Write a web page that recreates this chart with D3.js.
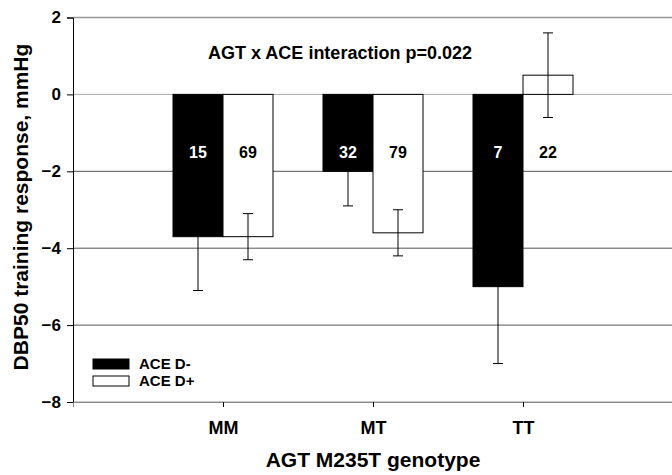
<!DOCTYPE html>
<html>
<head>
<meta charset="utf-8">
<script src="https://cdn.jsdelivr.net/npm/d3@7"></script>
<style>
  body { margin: 0; background: #fff; }
  text { font-family: "Liberation Sans", Arial, sans-serif; font-weight: bold; }
</style>
</head>
<body>
<svg></svg>
<script>
// data
var genotypes = ["MM", "MT", "TT"];
var groups = ["ACE D-", "ACE D+"];
var aceMinus = [-3.7, -2.0, -5.0];
var acePlus = [-3.7, -3.6, 0.5];
var seMinus = [1.4, 0.9, 2.0];
var sePlus = [0.6, 0.6, 1.1];
var nMinus = [15, 32, 7];
var nPlus = [69, 79, 22];
var yTicks = [2, 0, -2, -4, -6, -8];

var width = 672, height = 475;
var svg = d3.select("svg").attr("width", width).attr("height", height);

// scales
var x = d3.scaleLinear().domain([0, 4]).range([73, 673]);
var y = d3.scaleLinear().domain([-8, 2]).range([402, 17.5]);
var barW = 50;

// grid
svg.selectAll("line.grid")
   .data(yTicks)
   .enter()
   .append("line")
   .attr("class", "grid")
   .attr("x1", x(0)).attr("x2", width)
   .attr("y1", function(d){return y(d)})
   .attr("y2", function(d){return y(d)})
   .attr("stroke", function(d){return d == 2 || d == -8 ? "#999" : (d == 0 ? "#aaa" : "#555")})
   .attr("stroke-width", function(d){return d == 2 ? 1.5 : 1});

// bars
var rows = genotypes.map(function(g, i){
  return [
    {g: g, i: i, v: aceMinus[i], se: seMinus[i], n: nMinus[i], fill: "#000", txt: "#fff", off: -barW / 2},
    {g: g, i: i, v: acePlus[i], se: sePlus[i], n: nPlus[i], fill: "#fff", txt: "#000", off: barW / 2}
  ];
});
var bars = d3.merge(rows);

svg.selectAll("rect.bar")
   .data(bars)
   .enter()
   .append("rect")
   .attr("class", "bar")
   .attr("x", function(d){return x(d.i + 1) + d.off - barW / 2})
   .attr("y", function(d){return y(Math.max(0, d.v))})
   .attr("width", barW)
   .attr("height", function(d){return Math.abs(y(d.v) - y(0))})
   .attr("fill", function(d){return d.fill})
   .attr("stroke", "#000")
   .attr("stroke-width", 1);

// error bars
var eb = svg.selectAll("g.err")
   .data(bars)
   .enter()
   .append("g")
   .attr("class", "err")
   .attr("stroke", "#000")
   .attr("stroke-width", 1);
eb.append("line")
  .attr("x1", function(d){return x(d.i + 1) + d.off})
  .attr("x2", function(d){return x(d.i + 1) + d.off})
  .attr("y1", function(d){return y(d.v + d.se)})
  .attr("y2", function(d){return y(d.v - d.se)});
[1, -1].forEach(function(s){
  eb.append("line")
    .attr("x1", function(d){return x(d.i + 1) + d.off - 5})
    .attr("x2", function(d){return x(d.i + 1) + d.off + 5})
    .attr("y1", function(d){return y(d.v + s * d.se)})
    .attr("y2", function(d){return y(d.v + s * d.se)});
});

// counts
svg.selectAll("text.n")
   .data(bars)
   .enter()
   .append("text")
   .attr("class", "n")
   .attr("x", function(d){return x(d.i + 1) + d.off})
   .attr("y", y(-1.5) + 6)
   .attr("text-anchor", "middle")
   .attr("font-size", 16)
   .attr("fill", function(d){return d.txt})
   .text(function(d){return d.n});

// axes
var yAxis = svg.append("g")
   .attr("transform", "translate(" + x(0) + ",0)")
   .call(d3.axisLeft(y).tickValues(yTicks).tickSize(6).tickPadding(6));
yAxis.selectAll("text").attr("font-size", 17).attr("fill", "#000").style("font-family", "Liberation Sans, Arial, sans-serif");
yAxis.select(".domain").attr("stroke", "#000");

var xAxis = svg.append("g")
   .attr("transform", "translate(0," + y(-8) + ")")
   .call(d3.axisBottom(x).tickValues([1, 2, 3]).tickSize(5).tickPadding(14)
           .tickFormat(function(d){return genotypes[d - 1]}));
xAxis.selectAll("text").attr("font-size", 18).attr("fill", "#000").style("font-family", "Liberation Sans, Arial, sans-serif");
xAxis.select(".domain").attr("stroke", "#888");

// titles
svg.append("text")
   .attr("x", 373).attr("y", 467)
   .attr("text-anchor", "middle")
   .attr("font-size", 21)
   .text("AGT M235T genotype");

svg.append("text")
   .attr("transform", "translate(28,207)rotate(-90)")
   .attr("text-anchor", "middle")
   .attr("font-size", 21)
   .text("DBP50 training response, mmHg");

svg.append("text")
   .attr("x", 340).attr("y", 59)
   .attr("text-anchor", "middle")
   .attr("font-size", 18)
   .text("AGT x ACE interaction p=0.022");

// legend
var legend = svg.selectAll("g.leg")
   .data(groups)
   .enter()
   .append("g")
   .attr("class", "leg")
   .attr("transform", function(d, i){return "translate(93," + (359 + i * 17) + ")"});
legend.append("rect")
   .attr("width", 36).attr("height", 10)
   .attr("fill", function(d, i){return i == 0 ? "#000" : "#fff"})
   .attr("stroke", "#000");
legend.append("text")
   .attr("x", 46).attr("y", 10)
   .attr("font-size", 15)
   .text(function(d){return d});
</script>
</body>
</html>
